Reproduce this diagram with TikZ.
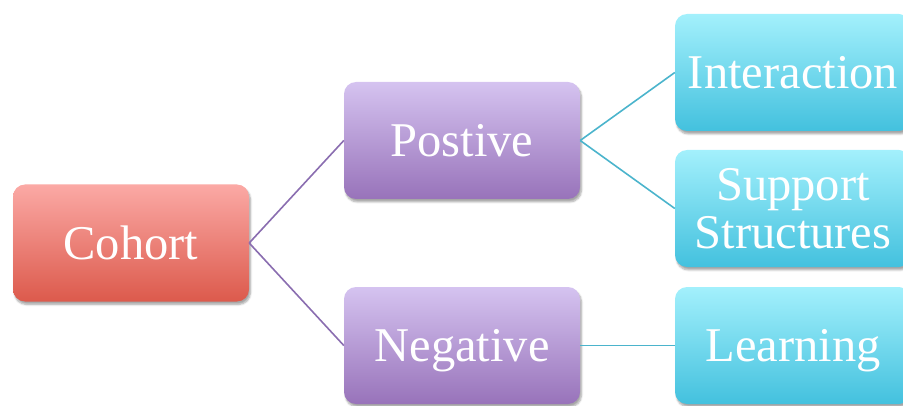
\documentclass[tikz,border=0pt]{standalone}
\usepackage{fontspec}
\setmainfont{Liberation Serif}
\usetikzlibrary{shadows.blur}
\definecolor{redtop}{HTML}{FBA9A5}
\definecolor{redbot}{HTML}{DC5A4C}
\definecolor{purtop}{HTML}{D5C3F0}
\definecolor{purbot}{HTML}{9873BA}
\definecolor{cyantop}{HTML}{A3F0FC}
\definecolor{cyanbot}{HTML}{43C1DE}
\definecolor{purline}{HTML}{8A6DB0}
\definecolor{cyanline}{HTML}{4BB4CC}
\tikzset{
  box/.style={rounded corners=12pt, minimum width=236pt, minimum height=117pt,
    text=white, align=center, inner sep=0pt,
    font=\fontsize{48.5}{48}\selectfont,
    blur shadow={shadow xshift=1.5pt, shadow yshift=-3pt, shadow blur steps=6, shadow opacity=35}},
  oneline/.style={text height=32pt, text depth=0pt},
  redbox/.style={box, oneline, top color=redtop, bottom color=redbot},
  purbox/.style={box, oneline, top color=purtop, bottom color=purbot},
  cyanbox/.style={box, oneline, top color=cyantop, bottom color=cyanbot},
  cyanbox2/.style={box, top color=cyantop, bottom color=cyanbot},
  purconn/.style={draw=purline, line width=1.6pt},
  cyanconn/.style={draw=cyanline, line width=1.6pt}
}
\begin{document}
\begin{tikzpicture}[x=1pt,y=1pt]
\useasboundingbox (0,0) rectangle (903,405);
\clip (0,0) rectangle (903,405);
\node[redbox] (coh) at (131,162) {Cohort};
\node[purbox] (pos) at (462,264.5) {Postive};
\node[purbox] (neg) at (462,59.5) {Negative};
\node[cyanbox] (int) at (793,332.5) {Interaction};
\node[cyanbox2] (sup) at (793,196.5) {Support\\Structures};
\node[cyanbox] (lea) at (793,59.5) {Learning};
\draw[purconn] (coh.east) -- (pos.west);
\draw[purconn] (coh.east) -- (neg.west);
\draw[cyanconn] (pos.east) -- (int.west);
\draw[cyanconn] (pos.east) -- (sup.west);
\draw[cyanconn] (neg.east) -- (lea.west);
\end{tikzpicture}
\end{document}
